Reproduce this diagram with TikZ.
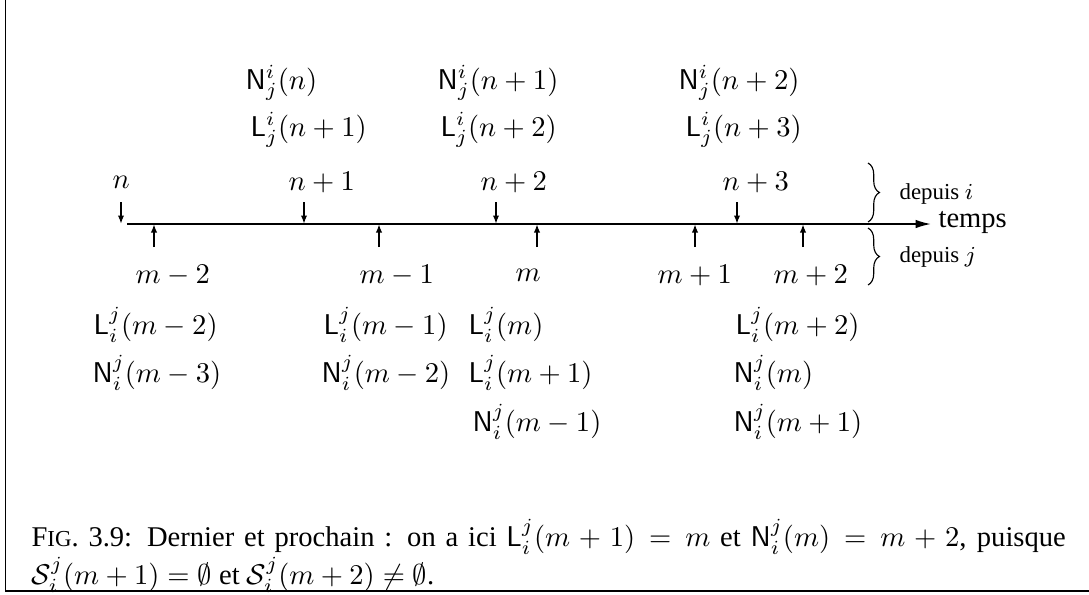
\documentclass[tikz,border=0pt]{standalone}
\usepackage{amsmath,amssymb}
\usepackage{fontspec}
\setmainfont{Liberation Serif}
\usetikzlibrary{arrows.meta,decorations.pathreplacing}
\newcommand{\dN}[3]{\mathsf{N}^{#1}_{#2}(#3)}
\newcommand{\dL}[3]{\mathsf{L}^{#1}_{#2}(#3)}
\tikzset{
  time axis/.style={line width=0.6pt,-{Latex[length=5.4pt,width=3pt]}},
  tick arrow/.style={line width=0.4pt,-{Latex[length=2.8pt,width=2.2pt]}},
  lbl/.style={anchor=west,inner sep=0pt},
  side note/.style={anchor=west,inner sep=0pt,font=\footnotesize},
  side brace/.style={decorate,decoration={brace,amplitude=4pt},line width=0.4pt},
  frame line/.style={line width=0.6pt},
  caption box/.style={anchor=north west,inner sep=0pt,text width=362pt,align=justify,
    font=\fontsize{10}{12.2}\selectfont}
}

\begin{document}
\begin{tikzpicture}[x=0.35pt,y=-0.35pt]
  \useasboundingbox (0,0) rectangle (1089,594);
  \draw[frame line] (5.5,0) -- (5.5,591) -- (1089,591);

  \coordinate (debut) at (127,224);
  \coordinate (fin) at (931,224);
  \draw[time axis] (debut) -- (fin);
  \node[lbl,font=\normalsize] (temps) at (938,222) {temps};

  \foreach \x [count=\k] in {121,304,496,737} {
    \coordinate (hi\k) at (\x,202);
    \coordinate (bi\k) at (\x,223.5);
    \draw[tick arrow] (hi\k) -- (bi\k);
  }
  \foreach \x [count=\k] in {154,379,537,695,803} {
    \coordinate (bj\k) at (\x,247);
    \coordinate (hj\k) at (\x,224.5);
    \draw[tick arrow] (bj\k) -- (hj\k);
  }

  \node[lbl] (n0) at (112,182) {$n$};
  \node[lbl] (n1) at (288,182) {$n+1$};
  \node[lbl] (n2) at (480,182) {$n+2$};
  \node[lbl] (n3) at (722,182) {$n+3$};
  \node[lbl] (Nn0) at (245,83) {$\dN{i}{j}{n}$};
  \node[lbl] (Ln1) at (250,130) {$\dL{i}{j}{n+1}$};
  \node[lbl] (Nn1) at (437,83) {$\dN{i}{j}{n+1}$};
  \node[lbl] (Ln2) at (440,130) {$\dL{i}{j}{n+2}$};
  \node[lbl] (Nn2) at (678,83) {$\dN{i}{j}{n+2}$};
  \node[lbl] (Ln3) at (685,130) {$\dL{i}{j}{n+3}$};

  \node[lbl] (m2) at (135,275) {$m-2$};
  \node[lbl] (m1) at (359,275) {$m-1$};
  \node[lbl] (m0) at (515,275) {$m$};
  \node[lbl] (p1) at (657,275) {$m+1$};
  \node[lbl] (p2) at (773,275) {$m+2$};
  \node[lbl] (Lm2) at (93,325) {$\dL{j}{i}{m-2}$};
  \node[lbl] (Nm3) at (92,373) {$\dN{j}{i}{m-3}$};
  \node[lbl] (Lm1) at (323,325) {$\dL{j}{i}{m-1}$};
  \node[lbl] (Nm2) at (321,373) {$\dN{j}{i}{m-2}$};
  \node[lbl] (Lm0) at (468,325) {$\dL{j}{i}{m}$};
  \node[lbl] (Lp1) at (468,373) {$\dL{j}{i}{m+1}$};
  \node[lbl] (Nm1) at (472,422) {$\dN{j}{i}{m-1}$};
  \node[lbl] (Lp2) at (735,325) {$\dL{j}{i}{m+2}$};
  \node[lbl] (Nm0) at (733,373) {$\dN{j}{i}{m}$};
  \node[lbl] (Np1) at (733,422) {$\dN{j}{i}{m+1}$};

  \coordinate (ai) at (868,163);
  \coordinate (bi) at (868,222);
  \coordinate (aj) at (868,228);
  \coordinate (bj) at (868,285);
  \draw[side brace] (ai) -- (bi);
  \draw[side brace] (aj) -- (bj);
  \node[side note] (depi) at (899,194) {depuis $i$};
  \node[side note] (depj) at (899,257) {depuis $j$};

  \node[caption box] (legende) at (31,519) {\noindent F{\footnotesize IG}. 3.9: Dernier et prochain : on a ici $\dL{j}{i}{m+1} = m$ et $\dN{j}{i}{m} = m+2$, puisque\linebreak $\mathcal{S}^j_i(m+1) = \emptyset$ et $\mathcal{S}^j_i(m+2) \neq \emptyset$.};
\end{tikzpicture}
\end{document}
